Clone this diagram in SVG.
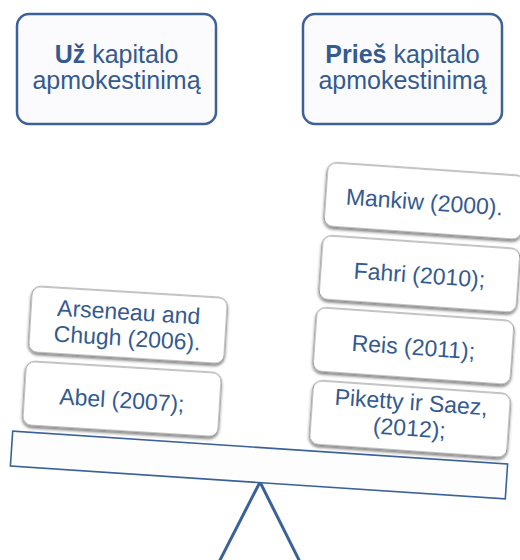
<svg xmlns="http://www.w3.org/2000/svg" width="520" height="560" viewBox="0 0 520 560">
<defs>
<filter id="sh" x="-10%" y="-20%" width="120%" height="150%">
<feDropShadow dx="0" dy="2" stdDeviation="1.4" flood-color="#000" flood-opacity="0.55"/>
</filter>
<style>
.hdr{fill:#fbfbfd;stroke:#3b6198;stroke-width:2.5}
.card{fill:#ffffff;stroke:#8a8a8a;stroke-width:1;filter:url(#sh)}
.t{font-family:"Liberation Sans",Arial,sans-serif;fill:#345a8f;text-anchor:middle}
.h{font-size:25px}
.c{font-size:23px}
.b{font-weight:bold}
.beam{fill:#fdfdfe;stroke:#3b6198;stroke-width:1.6}
.fulcrum{fill:none;stroke:#3b6198;stroke-width:3;stroke-linejoin:miter}
</style>
</defs>
<rect width="520" height="560" fill="#ffffff"/>

<g id="hdr-uz">
<rect class="hdr" x="17" y="14" width="199" height="110" rx="12"/>
<text class="t h" x="116.5" y="63"><tspan class="b">Už</tspan> kapitalo</text>
<text class="t h" x="116.5" y="89">apmokestinimą</text>
</g>

<g id="hdr-pries">
<rect class="hdr" x="303" y="14" width="199" height="110" rx="12"/>
<text class="t h" x="402.5" y="63"><tspan class="b">Prieš</tspan> kapitalo</text>
<text class="t h" x="402.5" y="89">apmokestinimą</text>
</g>

<g id="connectors">
<polyline class="fulcrum" points="218,564 260,482 301,564"/>
</g>

<g id="beam">
<rect class="beam" transform="translate(259,465) rotate(3.8)" x="-248" y="-17.5" width="496" height="35"/>
</g>

<g id="abel" transform="translate(122,399) rotate(3.5)">
<rect class="card" x="-98" y="-32" width="196" height="64" rx="9"/>
<text class="t c" x="0" y="9">Abel (2007);</text>
</g>

<g id="arseneau" transform="translate(128,325) rotate(3.5)">
<rect class="card" x="-98" y="-33" width="196" height="66" rx="9"/>
<text class="t c" x="0" y="-5">Arseneau and</text>
<text class="t c" x="0" y="21">Chugh (2006).</text>
</g>

<g id="piketty" transform="translate(410,419) rotate(4)">
<rect class="card" x="-99" y="-32" width="198" height="64" rx="9"/>
<text class="t c" x="0" y="-9">Piketty ir Saez,</text>
<text class="t c" x="0" y="17">(2012);</text>
</g>

<g id="reis" transform="translate(413.5,346) rotate(4)">
<rect class="card" x="-99" y="-32" width="198" height="64" rx="9"/>
<text class="t c" x="0" y="9">Reis (2011);</text>
</g>

<g id="fahri" transform="translate(419.5,274) rotate(4)">
<rect class="card" x="-99" y="-32" width="198" height="64" rx="9"/>
<text class="t c" x="0" y="9">Fahri (2010);</text>
</g>

<g id="mankiw" transform="translate(424.5,201) rotate(4)">
<rect class="card" x="-99" y="-32" width="198" height="64" rx="9"/>
<text class="t c" x="0" y="9">Mankiw (2000).</text>
</g>
</svg>
